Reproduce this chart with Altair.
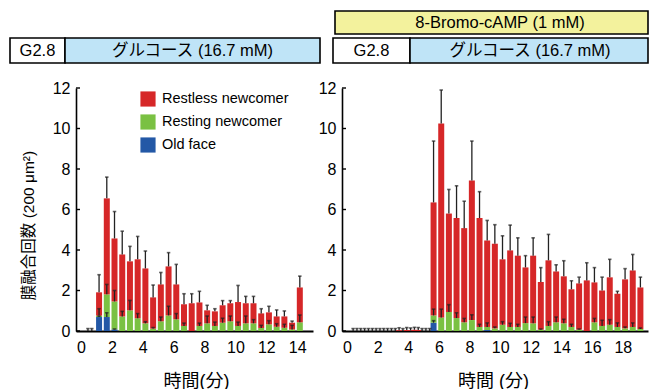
import altair as alt
import pandas as pd

CATS = ["Restless newcomer", "Resting newcomer", "Old face"]
COLORS = ["#d62728", "#7ac143", "#2358a6"]

# ---------- left panel (glucose) ----------
left_time = [1.17, 1.67, 2.17, 2.67, 3.17, 3.67, 4.17, 4.67, 5.17, 5.67, 6.17, 6.67, 7.17, 7.67,
             8.17, 8.67, 9.17, 9.67, 10.17, 10.67, 11.17, 11.67, 12.17, 12.67, 13.17, 13.67, 14.17]
left_old = [0.69, 0.69, 0.08] + [0] * 24
left_resting = [0.07, 1.12, 1.38, 0.72, 1.02, 0.63, 0.38, 0.12, 0.48, 0.77, 0.58, 0.25, 0, 0.25,
                0.38, 0.25, 0.41, 0.48, 0.25, 0.38, 0.38, 0.15, 0.33, 0.21, 0.16, 0.08, 0.43]
left_restless = [1.15, 4.74, 3.11, 3.06, 2.42, 2.91, 2.71, 1.54, 1.82, 2.42, 1.72, 1.07, 1.37, 1.16,
                 0.64, 0.72, 0.86, 0.89, 1.18, 0.99, 0.99, 0.72, 0.59, 0.51, 0.56, 0.33, 1.72]
left_old_err = [0.05, 0.21, 0.02] + [0] * 24
left_resting_err = [0.34, 0.49, 0.54, 0.25, 0.49, 0.23, 0.08, 0.05, 0.21, 0.45, 0.28, 0.14, 0, 0.14,
                    0.36, 0.19, 0.22, 0.26, 0.19, 0.36, 0.18, 0.13, 0.18, 0.15, 0.17, 0.2, 0.36]
left_restless_err = [0.87, 1.05, 1.33, 1.15, 0.74, 1.13, 0.86, 0.61, 0.59, 0.68, 0.99, 0.52, 0.47, 0.55,
                     0.25, 0.13, 0.23, 0.13, 0.82, 0.34, 0.34, 0.23, 0.30, 0.32, 0.27, 0.08, 0.56]
left_pre_time = [0.45, 0.7]
left_pre_restless = [0, 0]
left_pre_err = [0.12, 0.12]

# ---------- right panel (8-Bromo-cAMP + glucose) ----------
right_time = [5.65, 6.15, 6.65, 7.15, 7.65, 8.15, 8.65, 9.15, 9.65, 10.15, 10.65, 11.15, 11.65, 12.15,
              12.65, 13.15, 13.65, 14.15, 14.65, 15.15, 15.65, 16.15, 16.65, 17.15, 17.65, 18.15, 18.65, 19.15]
right_old = [0.41, 0, 0, 0, 0, 0, 0, 0.05] + [0] * 20
right_resting = [0.36, 0.67, 0.94, 0.64, 0.43, 0.54, 0.2, 0.15, 0.13, 0.31, 0.2, 0.2, 0.39, 0.38,
                 0.07, 0.25, 0.43, 0.38, 0.2, 0.07, 0, 0.43, 0.25, 0.31, 0.2, 0.13, 0.2, 0.1]
right_restless = [5.58, 9.58, 4.86, 4.94, 4.65, 6.89, 5.38, 4.27, 4.18, 3.23, 3.78, 3.52, 2.75, 3.34,
                  2.35, 3.24, 2.51, 2.32, 1.86, 2.28, 2.5, 1.97, 1.75, 2.34, 1.64, 2.42, 2.79, 2.05]
right_old_err = [0.1] + [0] * 27
right_resting_err = [0.31, 0.41, 0.36, 0.26, 0.19, 0.26, 0.13, 0.2, 0.07, 0.15, 0.18, 0.13, 0.3, 0.31,
                     0.03, 0.21, 0.26, 0.2, 0.13, 0.03, 0, 0.19, 0.28, 0.25, 0.2, 0.07, 0.2, 0.05]
right_restless_err = [3.03, 1.65, 1.19, 1.59, 1.33, 1.95, 1.3, 0.99, 0.94, 1.16, 1.25, 0.88, 0.58, 0.88,
                      0.71, 1.28, 0.33, 0.77, 0.42, 0.31, 0.87, 0.73, 0.66, 0.89, 0.12, 0.53, 0.79, 0.51]
right_pre_time = [0.4, 0.65, 0.9, 1.15, 1.4, 1.65, 1.9, 2.15, 2.4, 2.65, 2.9, 3.15, 3.4, 3.65,
                  3.9, 4.15, 4.4, 4.65, 4.9, 5.15, 5.4]
right_pre_restless = [0, 0, 0, 0, 0, 0, 0, 0, 0, 0, 0, 0, 0.04, 0, 0.05, 0.03, 0.06, 0.05, 0, 0, 0]
right_pre_err = [0.12] * 21

y_ticks = [0, 2, 4, 6, 8, 10, 12]
Y_TITLE = "膜融合回数 (200 μm²)"

LATIN = "Liberation Sans"
CJK = "Liberation Sans, Noto Sans CJK JP"


def tables(times, old, resting, restless, e_old, e_rest, e_restless):
    bars, errs = [], []
    for t, b, g, r, eb, eg, er in zip(times, old, resting, restless, e_old, e_rest, e_restless):
        c = 0.0
        for cat, v, e in [("Old face", b, eb), ("Resting newcomer", g, eg), ("Restless newcomer", r, er)]:
            if v > 0:
                bars.append(dict(t=t, cat=cat, y0=c, y1=c + v))
            c += v
            if e > 0:
                errs.append(dict(t=t, base=c, top=c + e))
    return pd.DataFrame(bars), pd.DataFrame(errs)


dummy = pd.DataFrame({"d": [0]})


def box(x1, x2, y1, y2, fill):
    return alt.Chart(dummy).mark_rect(fill=fill, stroke="black", strokeWidth=1.6).encode(
        x=alt.value(x1), x2=alt.value(x2), y=alt.value(y1), y2=alt.value(y2))


def label(txt, cx, cy, size=16.5):
    return alt.Chart(dummy).mark_text(text=txt, font=CJK, fontSize=size, align="center",
                                      baseline="middle", color="black").encode(
        x=alt.value(cx), y=alt.value(cy))


def panel(times, old, resting, restless, e_old, e_rest, e_restless, xmax, width,
          xtitle, xtitle_x, ytitle, xvals, headers):
    bars, errs = tables(times, old, resting, restless, e_old, e_rest, e_restless)
    xscale = alt.Scale(domain=[0, xmax], nice=False, zero=False)
    yscale = alt.Scale(domain=[0, 12], nice=False, zero=False)
    xaxis = alt.Axis(values=xvals, ticks=False, labelPadding=8, domainWidth=2.2, domainColor="black",
                     labelFont=LATIN, labelFontSize=16, labelColor="black", grid=False,
                     labelFlush=False, labelOverlap=False,
                     titleX=xtitle_x, titleY=50, titleBaseline="middle", titleFont=CJK,
                     titleFontSize=18, titleFontWeight="normal", titleColor="black")
    yaxis = alt.Axis(values=y_ticks, ticks=False, labelPadding=6, domainWidth=1.6, domainColor="black",
                     labelFont=LATIN, labelFontSize=16, labelColor="black", grid=False,
                     labelFlush=False, labelOverlap=False,
                     titleX=-48, titleY=137, titleAngle=270, titleAlign="center",
                     titleBaseline="middle", titleFont=CJK, titleFontSize=15.5,
                     titleFontWeight="normal", titleColor="black")

    def X(f):
        return alt.X(f, type="quantitative", scale=xscale, axis=xaxis, title=xtitle)

    def Y(f):
        return alt.Y(f, type="quantitative", scale=yscale, axis=yaxis, title=ytitle)

    bar = alt.Chart(bars).mark_bar(size=6).encode(
        x=X("t"), y=Y("y0"), y2="y1",
        color=alt.Color("cat:N", scale=alt.Scale(domain=CATS, range=COLORS),
                        legend=alt.Legend(orient="none", legendX=64, legendY=3, title=None,
                                          symbolType="square", symbolSize=230, symbolStrokeWidth=0,
                                          labelFont=LATIN, labelFontSize=14.5, labelColor="black",
                                          rowPadding=7, labelOffset=6)))
    err = alt.Chart(errs).mark_rule(color="#222", strokeWidth=1.3).encode(
        x=X("t"), y=Y("base"), y2="top")
    cap = alt.Chart(errs).mark_tick(orient="horizontal", size=3.5, thickness=1.6, color="#222").encode(
        x=X("t"), y=Y("top"))
    ytk = alt.Chart(pd.DataFrame({"v": y_ticks})).mark_rule(color="black", strokeWidth=1.4).encode(
        x=alt.value(0), x2=alt.value(4), y=Y("v"))
    return alt.layer(bar, err, cap, ytk, *headers).properties(width=width, height=243)


RW = 306  # right panel plot width

left_headers = [
    box(-66, -11, -50, -25, "white"),
    box(-11, 244, -50, -25, "#bfe4f7"),
    label("G2.8", -38.5, -37.5),
    label("グルコース (16.7 mM)", 116.5, -37.5),
]
right_headers = [
    box(-7, RW, -77, -54, "#f3f29d"),
    label("8-Bromo-cAMP (1 mM)", 158, -65.5),
    box(-9, 68, -50, -25, "white"),
    box(68, RW, -50, -25, "#bfe4f7"),
    label("G2.8", 29.5, -37.5),
    label("グルコース (16.7 mM)", 188, -37.5),
]

left = panel(left_pre_time + left_time, [0, 0] + left_old, [0, 0] + left_resting,
             left_pre_restless + left_restless, [0, 0] + left_old_err, [0, 0] + left_resting_err,
             left_pre_err + left_restless_err, 14.7, 237, "時間(分)", 120, Y_TITLE,
             [0, 2, 4, 6, 8, 10, 12, 14], left_headers)

n = len(right_pre_time)
right = panel(right_pre_time + right_time, [0] * n + right_old, [0] * n + right_resting,
              right_pre_restless + right_restless, [0] * n + right_old_err, [0] * n + right_resting_err,
              right_pre_err + right_restless_err, 19.32, RW, "時間 (分)", 151, None,
              [0, 2, 4, 6, 8, 10, 12, 14, 16, 18], right_headers)

chart = alt.hconcat(left, right, spacing=29, bounds="flush").properties(
    padding={"left": 1, "top": 2, "right": 0, "bottom": 0}
).configure_view(stroke=None).configure_axis(grid=False)

chart.save("out.html", embed_options={"renderer": "svg", "actions": False})
